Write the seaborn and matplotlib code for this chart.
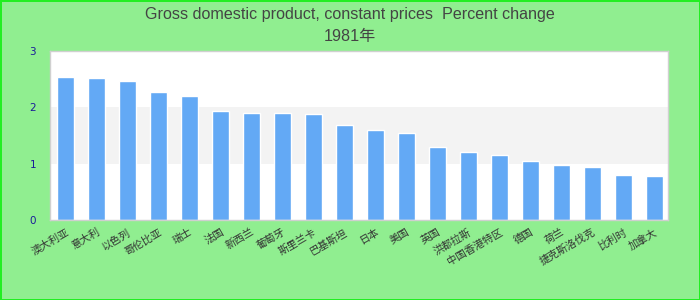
import matplotlib
matplotlib.use("Agg")
import matplotlib.pyplot as plt
import seaborn as sns
import pandas as pd

# ---- data ----
title_line1 = "Gross domestic product, constant prices  Percent change"
title_line2 = "1981年"
countries = ["澳大利亚", "意大利", "以色列", "哥伦比亚", "瑞士", "法国", "新西兰",
             "葡萄牙", "斯里兰卡", "巴基斯坦", "日本", "美国", "英国", "洪都拉斯",
             "中国香港特区", "德国", "荷兰", "捷克斯洛伐克", "比利时", "加拿大"]
values = [2.54, 2.52, 2.47, 2.27, 2.20, 1.94, 1.90, 1.90, 1.88, 1.69,
          1.60, 1.55, 1.30, 1.21, 1.15, 1.05, 0.98, 0.94, 0.80, 0.78]
y_ticks = [0, 1, 2, 3]

df = pd.DataFrame({"country": countries, "value": values})

sns.set_theme(style="white")
plt.rcParams["font.family"] = ["Liberation Sans", "Noto Sans CJK SC", "DejaVu Sans"]

fig = plt.figure(figsize=(7, 3), dpi=100)
fig.patch.set_facecolor("#90EE90")
fig.patch.set_edgecolor("#22ee22")
fig.patch.set_linewidth(2)

ax = fig.add_axes([50 / 700, 1 - 220 / 300, 618 / 700, 169 / 300])
ax.set_facecolor("white")
ax.axhspan(1, 2, color="#f3f3f3", zorder=0, lw=0)

sns.barplot(data=df, x="country", y="value", color="#63a9f5", width=0.55,
            saturation=1, ax=ax, zorder=2)

ax.set_xlim(-0.5, 19.45)
ax.set_ylim(0, 3)
ax.set_yticks(y_ticks)
ax.set_yticklabels([str(t) for t in y_ticks], color="#1a1a99", fontsize=7.5,
                   family=["DejaVu Sans"])
ax.set_xlabel("")
ax.set_ylabel("")
ax.tick_params(axis="both", length=0)
ax.tick_params(axis="y", pad=10)
ax.tick_params(axis="x", pad=5)
for lbl in ax.get_xticklabels():
    lbl.set_rotation(30)
    lbl.set_ha("right")
    lbl.set_rotation_mode("anchor")
    lbl.set_fontsize(7.5)
    lbl.set_color("#333333")
    lbl.set_family(["Noto Sans CJK SC", "DejaVu Sans"])

for s in ax.spines.values():
    s.set_color("#d0d0d0")
    s.set_linewidth(1)

fig.text(0.5, 1 - 14 / 300, title_line1, ha="center", va="center",
         fontsize=11.6, color="#444444")
fig.text(0.5, 1 - 37 / 300, title_line2, ha="center", va="center",
         fontsize=11.6, color="#444444")

fig.savefig("out.png", dpi=100, facecolor=fig.get_facecolor(),
            edgecolor=fig.get_edgecolor())
